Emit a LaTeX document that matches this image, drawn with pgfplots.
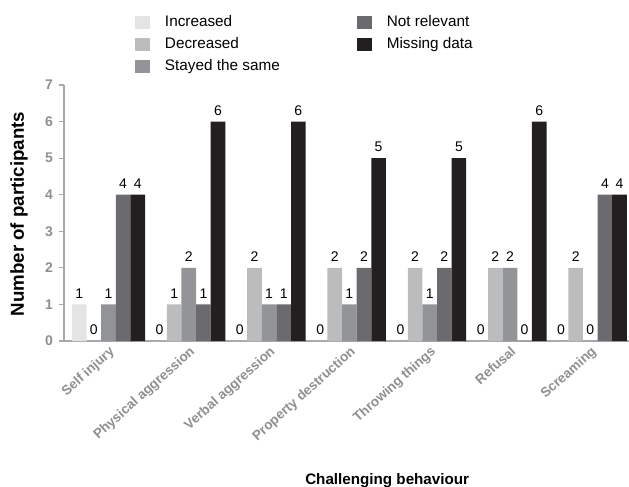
\documentclass[border=0pt]{standalone}
\usepackage{pgfplots}
\pgfplotsset{compat=1.18}
\usepackage{pgfplotstable}
\usepackage{fontspec}
\setmainfont{Liberation Sans}
\definecolor{cInc}{HTML}{E4E4E6}
\definecolor{cDec}{HTML}{BBBCBE}
\definecolor{cSame}{HTML}{939497}
\definecolor{cNR}{HTML}{6B6B6F}
\definecolor{cMiss}{HTML}{231F20}
\definecolor{tickgray}{HTML}{8F8F8F}
\definecolor{axgray}{HTML}{A8A8A8}
\pgfplotsset{sqlegend/.style={legend image code/.code={\fill[##1, draw=none] (0pt,-6.5pt) rectangle (15pt,6.5pt);}}}

\pgfplotstableread{
x inc dec same nr miss
0 1 0 1 4 4
1 0 1 2 1 6
2 0 2 1 1 6
3 0 2 1 2 5
4 0 2 1 2 5
5 0 2 2 0 6
6 0 2 0 4 4
}\datatable

\begin{document}
\begin{tikzpicture}
\begin{axis}[
  scale only axis, width=565pt, height=256pt,
  xmin=-0.554, xmax=6.482, ymin=0, ymax=7,
  axis x line=bottom, axis y line=left,
  axis line style={axgray, line width=1.5pt, -},
  ytick={0,...,7}, xtick={0,...,6},
  xticklabels={Self injury, Physical aggression, Verbal aggression, Property destruction, Throwing things, Refusal, Screaming},
  x tick style={draw=none}, y tick style={axgray, line width=1.2pt},
  major tick length=5pt, tick align=outside,
  ticklabel style={font=\fontsize{13.5}{16}\selectfont\bfseries, text=tickgray},
  yticklabel style={font=\fontsize{14}{16}\selectfont\bfseries, inner sep=0pt, xshift=-6pt},
  /pgf/number format/assume math mode=true,
  xticklabel style={inner sep=0pt, xshift=0pt, yshift=1pt, rotate=42, anchor=north east},
  every axis y label/.style={at={(rel axis cs:0,0.496)}, xshift=-45pt, rotate=90, anchor=center},
  ylabel={\fontsize{18.7}{21}\selectfont\bfseries Number of participants},
  every axis x label/.style={at={(rel axis cs:0.572,0)}, yshift=-140pt, anchor=center},
  xlabel={\fontsize{15.2}{17}\selectfont\bfseries Challenging behaviour},
  ybar, bar width=0.182,
  nodes near coords,
  nodes near coords style={font=\fontsize{14}{16}\selectfont, text=black, inner sep=0pt, anchor=south, yshift=6pt},
  legend style={at={(rel axis cs:0.12,1.281)}, anchor=north west, draw=none, fill=none,
    legend columns=2, legend cell align=left, font=\fontsize{15.3}{17}\selectfont,
    nodes={inner sep=0pt, text height=11pt, text depth=3pt},
    /tikz/every odd column/.append style={column sep=15pt},
    /tikz/every even column/.append style={column sep=77pt}, row sep=8pt},
]
\addplot[fill=cInc, draw=none, bar shift=-0.364, forget plot] table[x=x, y=inc]{\datatable};
\addplot[fill=cDec, draw=none, bar shift=-0.182, forget plot] table[x=x, y=dec]{\datatable};
\addplot[fill=cSame, draw=none, bar shift=0, forget plot] table[x=x, y=same]{\datatable};
\addplot[fill=cNR, draw=none, bar shift=0.182, forget plot] table[x=x, y=nr]{\datatable};
\addplot[fill=cMiss, draw=none, bar shift=0.364, forget plot] table[x=x, y=miss]{\datatable};
\addlegendimage{sqlegend, fill=cInc}\addlegendentry{Increased}
\addlegendimage{sqlegend, fill=cNR}\addlegendentry{Not relevant}
\addlegendimage{sqlegend, fill=cDec}\addlegendentry{Decreased}
\addlegendimage{sqlegend, fill=cMiss}\addlegendentry{Missing data}
\addlegendimage{sqlegend, fill=cSame}\addlegendentry{Stayed the same}
\coordinate (bl) at (rel axis cs:0,0);
\end{axis}
\pgfresetboundingbox
\path ([shift={(-64pt,-146pt)}]bl) rectangle ([shift={(565pt,341pt)}]bl);
\end{tikzpicture}
\end{document}
